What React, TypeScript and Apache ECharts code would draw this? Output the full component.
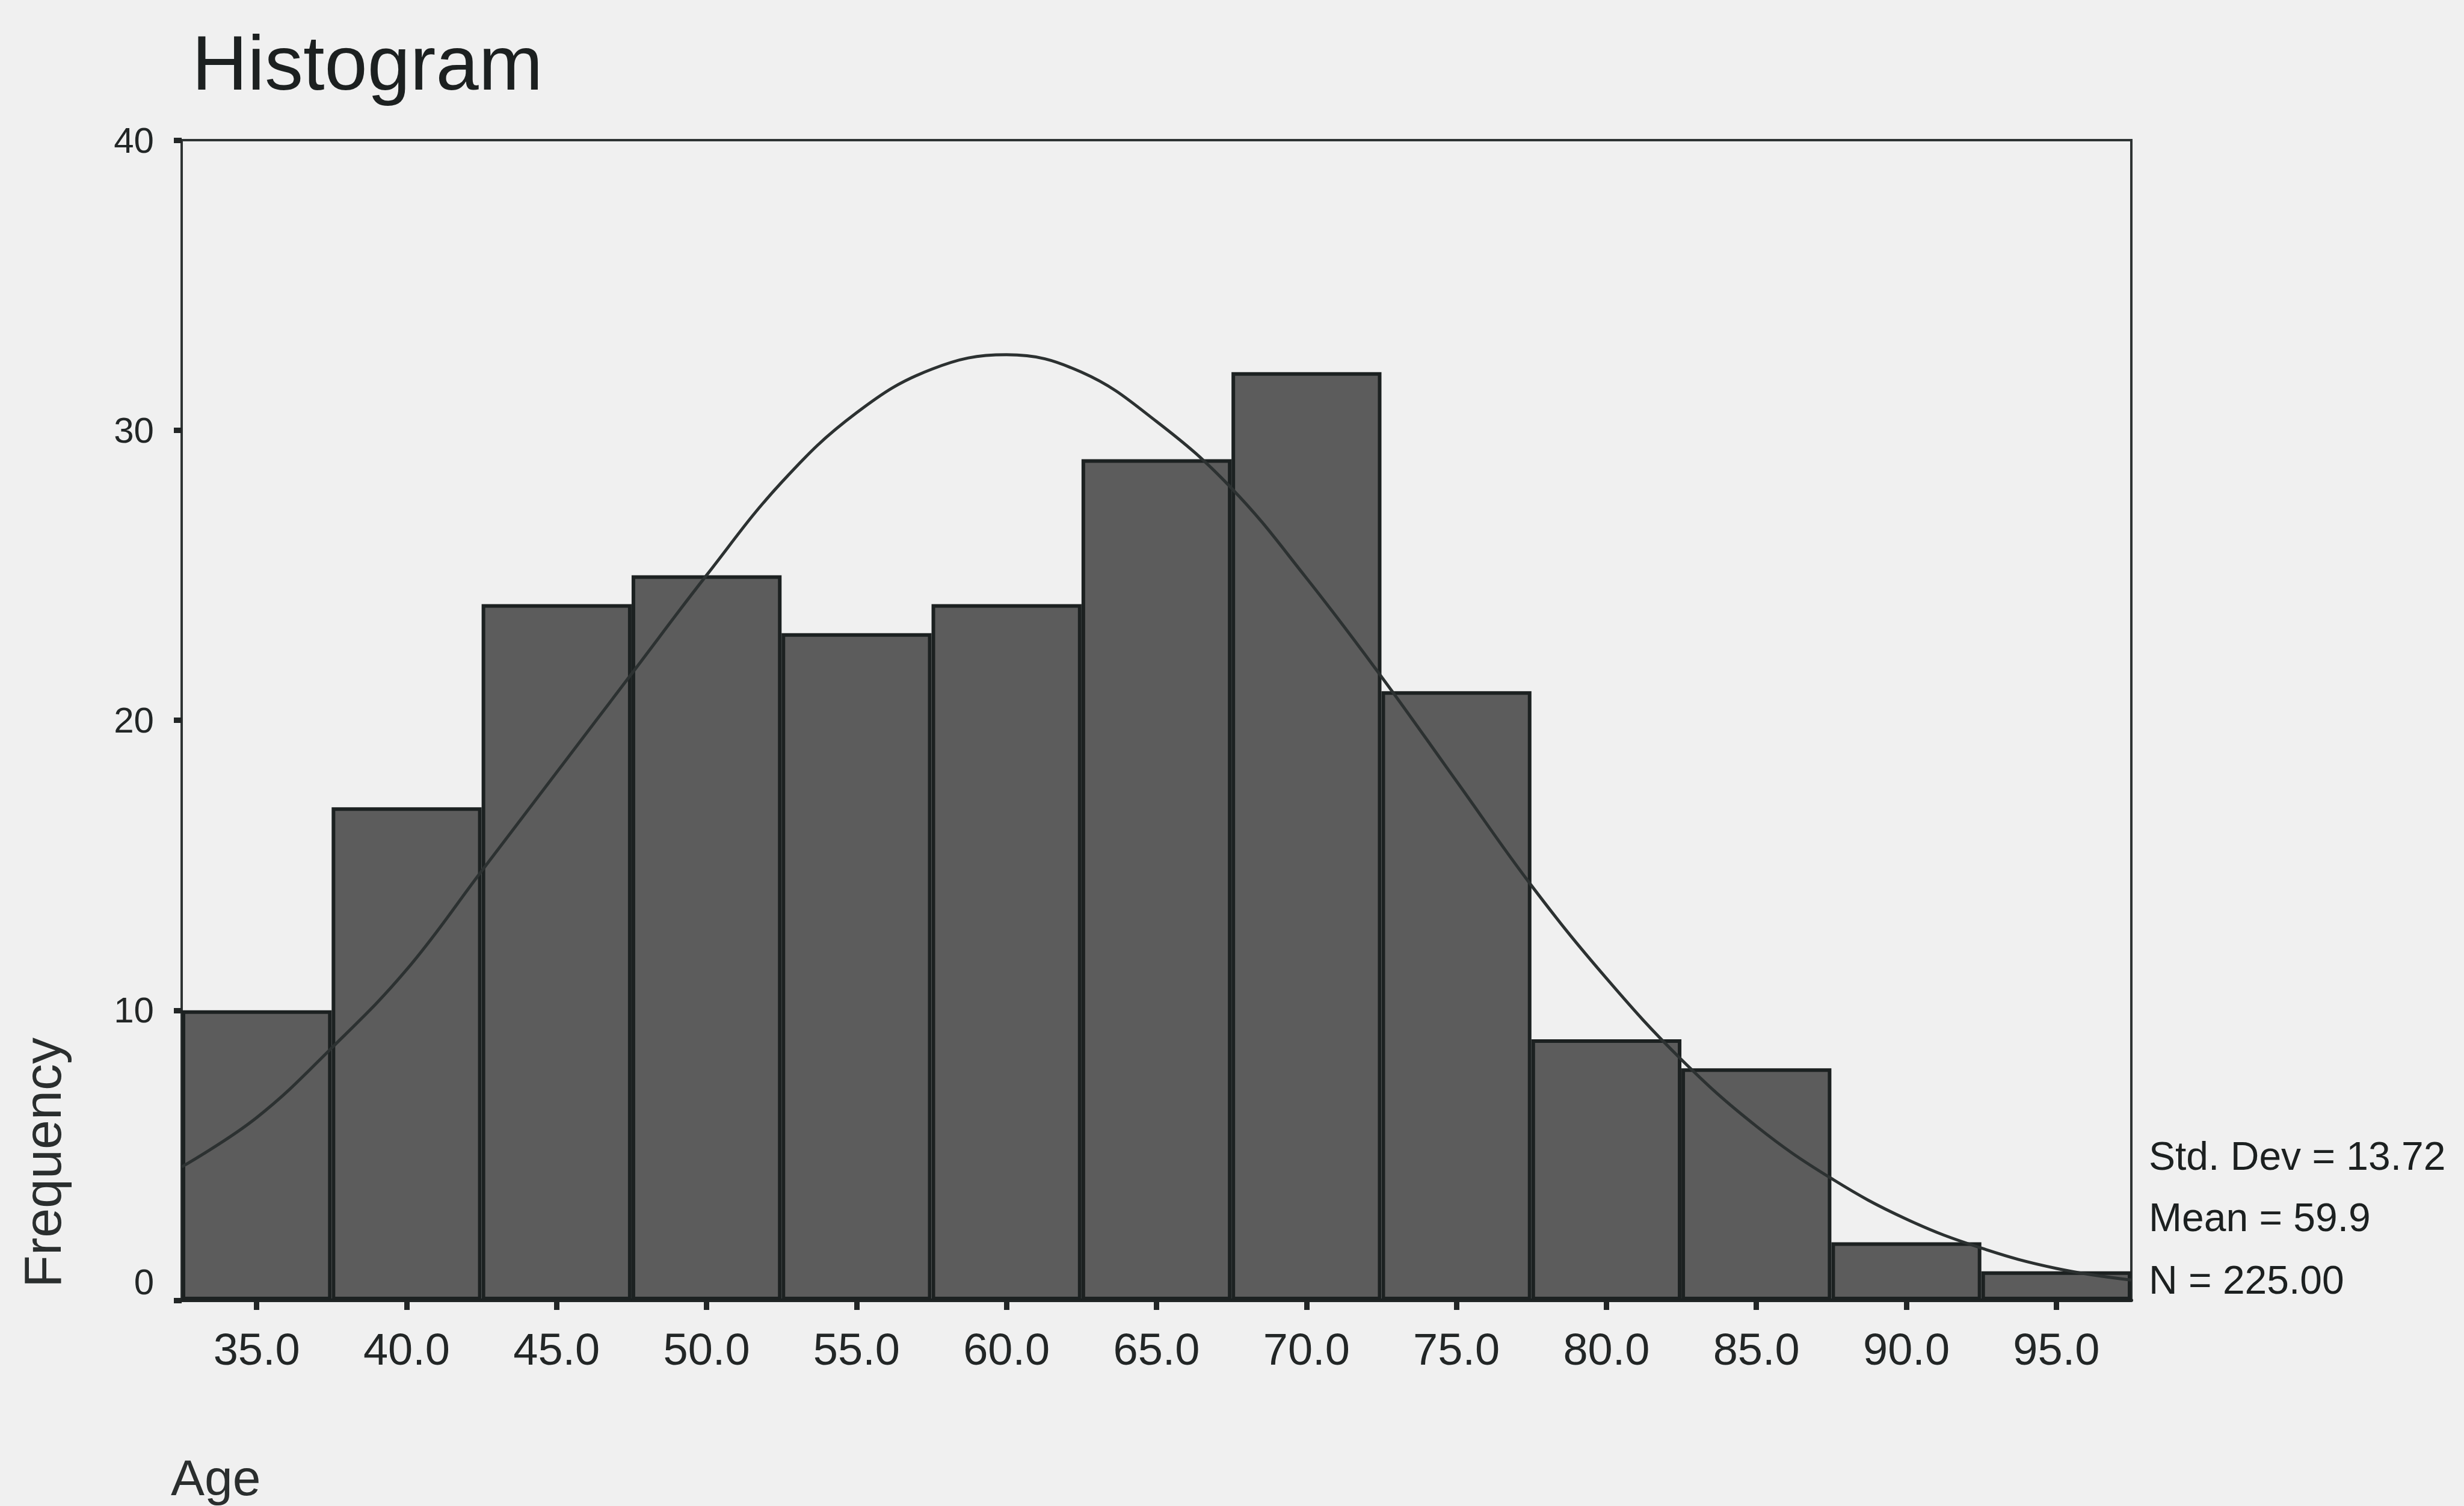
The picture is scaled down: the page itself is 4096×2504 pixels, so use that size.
import React, { useEffect, useRef } from "react";
import * as echarts from "echarts";

const binLabels = ["35.0", "40.0", "45.0", "50.0", "55.0", "60.0", "65.0", "70.0", "75.0", "80.0", "85.0", "90.0", "95.0"];
const frequencies = [10, 17, 24, 25, 23, 24, 29, 32, 21, 9, 8, 2, 1];
const curveAges = [32.5, 35, 37.5, 40, 42.5, 45, 47.5, 50, 52.5, 55, 57.5, 60, 62.5, 65, 67.5, 70, 72.5, 75, 77.5, 80, 82.5, 85, 87.5, 90, 92.5, 95, 97.5];
const curveFreq = [4.6, 6.3, 8.7, 11.4, 14.8, 18.2, 21.6, 25.0, 28.2, 30.6, 32.1, 32.6, 32.0, 30.3, 28.0, 24.9, 21.5, 17.9, 14.3, 11.1, 8.3, 6.0, 4.2, 2.8, 1.8, 1.1, 0.7];
const statsLines = ["Std. Dev = 13.72", "Mean = 59.9", "N = 225.00"];
const titleText = "Histogram";
const yTitle = "Frequency";
const xTitle = "Age";

const NARROW = "'Liberation Sans Narrow', 'Arial Narrow', 'Liberation Sans', Arial, sans-serif";
const SANS = "'Liberation Sans', Arial, sans-serif";
const INK = "#222626";

export default function App() {
  const ref = useRef<HTMLDivElement>(null);
  useEffect(() => {
    if (!ref.current) return;
    const chart = echarts.init(ref.current, null, { renderer: "svg" });
    chart.setOption({
      animation: false,
      backgroundColor: "#f0f0f0",
      grid: {
        left: 302,
        right: 553,
        top: 233,
        bottom: 342,
        containLabel: false,
        show: true,
        borderColor: "#2e3333",
        borderWidth: 4,
        backgroundColor: "transparent",
      },
      xAxis: [
        {
          type: "category",
          data: binLabels,
          boundaryGap: true,
          axisLine: { show: true, lineStyle: { color: INK, width: 6 } },
          axisTick: { show: true, alignWithLabel: true, length: 16, lineStyle: { color: INK, width: 9 } },
          axisLabel: { fontSize: 74, fontFamily: NARROW, color: "#222626", margin: 44 },
          splitLine: { show: false },
        },
        {
          type: "value",
          min: 32.5,
          max: 97.5,
          show: false,
        },
      ],
      yAxis: {
        type: "value",
        min: 0,
        max: 40,
        interval: 10,
        axisLine: { show: true, lineStyle: { color: "#2e3333", width: 3 } },
        axisTick: { show: true, length: 13, lineStyle: { color: INK, width: 9 } },
        axisLabel: {
          fontSize: 60,
          fontFamily: NARROW,
          color: "#222626",
          margin: 46,
          formatter: (v: number) => (v === 0 ? "{z|0}" : String(v)),
          rich: { z: { fontSize: 60, fontFamily: NARROW, color: "#222626", padding: [0, 0, 62, 0] } },
        },
        splitLine: { show: false },
      },
      series: [
        {
          type: "bar",
          xAxisIndex: 0,
          data: frequencies,
          barCategoryGap: "0%",
          itemStyle: { color: "#5c5c5c", borderColor: "#1c2121", borderWidth: 6 },
          z: 2,
        },
        {
          type: "line",
          xAxisIndex: 1,
          data: curveAges.map((a, i) => [a, curveFreq[i]]),
          smooth: 0.4,
          symbol: "none",
          lineStyle: { color: "#2c3131", width: 5 },
          z: 3,
        },
      ],
      graphic: [
        {
          type: "text",
          left: 319,
          top: 40,
          style: { text: titleText, fontSize: 128, fontFamily: SANS, fill: "#1c2020" },
        },
        {
          type: "text",
          x: 70,
          y: 1933,
          rotation: Math.PI / 2,
          style: { text: yTitle, fontSize: 88, fontFamily: SANS, fill: "#2a2e2e", align: "center", verticalAlign: "middle" },
        },
        {
          type: "text",
          x: 284,
          y: 2457,
          style: { text: xTitle, fontSize: 84, fontFamily: SANS, fill: "#2a2e2e", align: "left", verticalAlign: "middle" },
        },
        ...statsLines.map((t, i) => ({
          type: "text",
          x: 3572,
          y: [1922, 2024, 2128][i],
          style: { text: t, fontSize: 66, fontFamily: SANS, fill: "#1c2020", align: "left", verticalAlign: "middle" },
        })),
      ],
    });
    return () => chart.dispose();
  }, []);
  return (
    <div
      ref={ref}
      style={{ position: "fixed", left: 0, top: 0, width: 4096, height: 2504, background: "#f0f0f0" }}
    />
  );
}
